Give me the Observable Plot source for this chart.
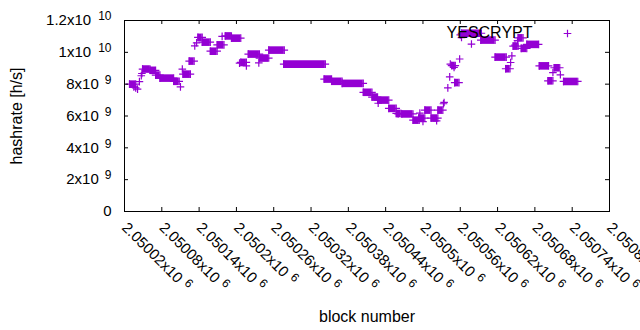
<!DOCTYPE html>
<html><head><meta charset="utf-8">
<script src="https://cdn.jsdelivr.net/npm/d3@7"></script>
<script src="https://cdn.jsdelivr.net/npm/@observablehq/plot@0.6"></script>
<style>
body{margin:0;background:#fff}
svg{font-family:"Liberation Sans",Arial,sans-serif}
</style>
</head><body><div id="chart"></div>
<script>
// ---- data ----
const seriesName = "YESCRYPT";
// runs of consecutive blocks with the same hashrate
const segStart = [2050028,2050049,2050061,2050070,2050077,2050099,2050114,2050124,2050138,2050145,2050158,2050169,2050182,2050192,2050207,2050219,2050237,2050252,2050276,2050341,2050353,2050370,2050404,2050418,2050427,2050445,2050457,2050466,2050484,2050493,2050503,2050513,2050524,2050546,2050551,2050562,2050593,2050616,2050633,2050645,2050653,2050658,2050667,2050687,2050701,2050711,2050726];
const segEnd   = [2050038,2050061,2050070,2050077,2050099,2050108,2050126,2050132,2050145,2050158,2050169,2050180,2050192,2050207,2050216,2050237,2050252,2050277,2050343,2050353,2050370,2050404,2050418,2050427,2050445,2050457,2050465,2050484,2050494,2050503,2050513,2050524,2050532,2050552,2050558,2050594,2050616,2050634,2050640,2050653,2050661,2050667,2050686,2050702,2050709,2050720,2050749];
const segValue = [8.0e9,8.95e9,8.87e9,8.57e9,8.38e9,8.18e9,8.63e9,9.45e9,10.94e9,10.64e9,10.07e9,10.47e9,11.03e9,10.89e9,9.37e9,9.89e9,9.64e9,10.14e9,9.26e9,8.32e9,8.18e9,8.05e9,7.49e9,7.19e9,7.0e9,6.48e9,6.16e9,6.13e9,5.74e9,5.87e9,6.37e9,5.87e9,6.37e9,9.17e9,8.1e9,11.2e9,10.77e9,9.7e9,8.97e9,10.39e9,10.91e9,10.25e9,10.5e9,9.15e9,8.21e9,9.03e9,8.17e9];
// isolated blocks
const pointBlock = [2050035,2050038,2050041,2050044,2050047,2050048,2050110,2050113,2050133,2050136,2050177,2050205,2050216,2050236,2050428,2050460,2050495,2050500,2050522,2050533,2050534,2050540,2050543,2050544,2050550,2050559,2050560,2050562,2050578,2050641,2050643,2050648,2050652,2050709,2050721];
const pointValue = [7.83e9,7.77e9,7.69e9,8.16e9,8.53e9,8.67e9,7.83e9,8.95e9,10.4e9,10.6e9,11.0e9,9.32e9,9.15e9,9.34e9,6.8e9,6.13e9,6.18e9,5.65e9,5.70e9,6.77e9,6.85e9,7.77e9,8.46e9,9.26e9,9.05e9,9.58e9,11.1e9,10.93e9,10.52e9,9.36e9,9.78e9,10.45e9,10.73e9,8.73e9,8.59e9];
// axes
const xTicks = [2050020,2050080,2050140,2050200,2050260,2050320,2050380,2050440,2050500,2050560,2050620,2050680,2050740,2050800];
const xTickLabels = ["2.05002x10^{6}","2.05008x10^{6}","2.05014x10^{6}","2.0502x10^{6}","2.05026x10^{6}","2.05032x10^{6}","2.05038x10^{6}","2.05044x10^{6}","2.0505x10^{6}","2.05056x10^{6}","2.05062x10^{6}","2.05068x10^{6}","2.05074x10^{6}","2.0508x10^{6}"];
const yTicks = [0,2e9,4e9,6e9,8e9,1e10,1.2e10];
const yTickLabels = ["0","2x10^{9}","4x10^{9}","6x10^{9}","8x10^{9}","1x10^{10}","1.2x10^{10}"];
const xLabel = "block number", yLabel = "hashrate [h/s]";

// ---- build ----
const W=640,H=330,mL=124,mR=31,mT=20,mB=119;
const pw=W-mL-mR, ph=H-mT-mB;
const color="#9400d3";
const tick=4;
const plusSym={draw(ctx,size){const r=Math.sqrt(size/Math.PI);ctx.moveTo(-r,0);ctx.lineTo(r,0);ctx.moveTo(0,-r);ctx.lineTo(0,r);}};
const segments=segStart.map((s,i)=>({start:s,end:segEnd[i],value:segValue[i]}));
const segEnds=segments.flatMap(d=>[{block:d.start,value:d.value},{block:d.end,value:d.value}]);
const points=pointBlock.map((b,i)=>({block:b,value:pointValue[i]}));
const xMap=new Map(xTicks.map((t,i)=>[t,xTickLabels[i]]));
const yMap=new Map(yTicks.map((t,i)=>[t,yTickLabels[i]]));
const FS=15, LS=16;

const svg=Plot.plot({
  width:W,height:H,marginLeft:mL,marginRight:mR,marginTop:mT,marginBottom:mB,
  style:{fontFamily:'"Liberation Sans",Arial,sans-serif',fontSize:FS+"px",color:"black",background:"white",overflow:"visible"},
  x:{domain:[2050020,2050800]},
  y:{domain:[0,1.2e10]},
  marks:[
    Plot.ruleY(segments,{y:"value",x1:"start",x2:"end",stroke:color,strokeWidth:7.6}),
    Plot.dot(segEnds,{x:"block",y:"value",symbol:plusSym,r:3.8,stroke:color,strokeWidth:1.2,fill:"none"}),
    Plot.dot(points,{x:"block",y:"value",symbol:plusSym,r:3.8,stroke:color,strokeWidth:1.2,fill:"none"}),
    Plot.frame({stroke:"black"}),
    Plot.ruleX(xTicks,{x:d=>d,insetTop:ph-tick,stroke:"black"}),
    Plot.ruleX(xTicks,{x:d=>d,insetBottom:ph-tick,stroke:"black"}),
    Plot.ruleY(yTicks,{y:d=>d,insetRight:pw-tick,stroke:"black"}),
    Plot.ruleY(yTicks,{y:d=>d,insetLeft:pw-tick,stroke:"black"}),
    Plot.axisX(xTicks,{tickSize:0,tickPadding:13.5,tickRotate:45,tickFormat:d=>xMap.get(d),label:null,fontSize:FS}),
    Plot.axisY(yTicks,{tickSize:0,tickPadding:13,tickFormat:d=>yMap.get(d),label:null,fontSize:FS}),
    Plot.text([xLabel],{frameAnchor:"bottom",dy:105,textAnchor:"middle",lineAnchor:"middle",fontSize:LS}),
    Plot.text([yLabel],{frameAnchor:"left",dx:-108,rotate:-90,textAnchor:"middle",lineAnchor:"middle",fontSize:LS}),
    Plot.text([seriesName],{frameAnchor:"top-right",dx:-77,dy:12,textAnchor:"end",lineAnchor:"middle",fontSize:LS}),
    Plot.dot([seriesName],{frameAnchor:"top-right",dx:-42,dy:13,symbol:plusSym,r:3.8,stroke:color,strokeWidth:1.2,fill:"none"})
  ]
});
document.getElementById("chart").appendChild(svg);
// superscripts (gnuplot enhanced-text style)
d3.select(svg).selectAll('g[aria-label$="tick label"] text').each(function(){
  const m=this.textContent.match(/^(.*)\^\{(.*)\}$/);
  if(!m) return;
  const s=d3.select(this);
  s.text(m[1]);
  const isY=this.closest('g').getAttribute('aria-label').startsWith('y');
  s.append("tspan").attr("dx",isY?(m[2].length>1?7:6):5).attr("dy","-0.42em").attr("font-size",12).text(m[2]);
});
</script>
</body></html>
